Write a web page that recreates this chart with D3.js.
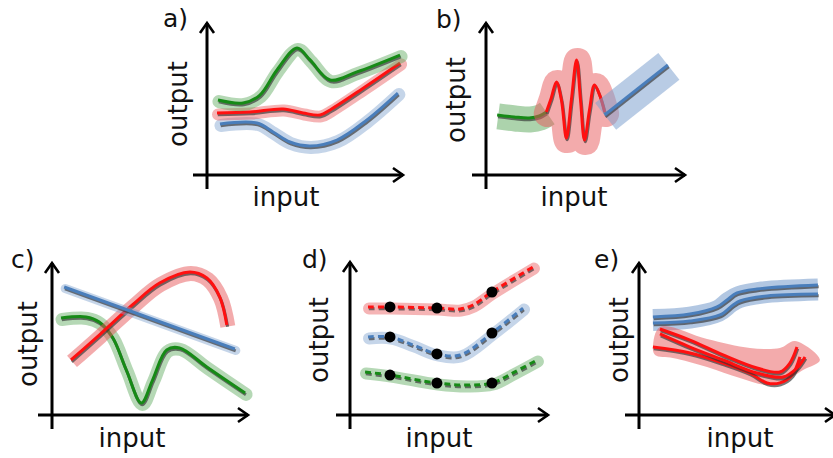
<!DOCTYPE html>
<html>
<head>
<meta charset="utf-8">
<script src="https://cdn.jsdelivr.net/npm/d3@7"></script>
<style>
  html, body { margin: 0; padding: 0; background: #fff; }
  svg { display: block; }
  text { font-family: "DejaVu Sans", Verdana, sans-serif; fill: #111; }
</style>
</head>
<body>
<svg id="fig" width="833" height="458"></svg>
<script>
// ---- labels ----
const panelLetters = ["a)", "b)", "c)", "d)", "e)"];
const xLabel = "input";
const yLabel = "output";

// ---- curve values (x: 0..100 along input, y: 0..100 along output) ----
// a) three smooth responses
const aGreen = [[5.6,49.3],[18.4,47.4],[27.0,52.6],[35.7,69.1],[45.9,83.6],[52.6,75.7],[62.8,62.5],[76.5,67.8],[98.5,78.9]];
const aRed   = [[5.1,40.8],[21.9,41.4],[38.8,43.4],[49.0,40.8],[57.7,39.5],[62.8,42.8],[80.6,57.9],[98.5,73.7]];
const aBlue  = [[6.6,33.6],[25.5,34.2],[33.7,28.3],[42.3,21.7],[52.6,19.1],[66.3,23.0],[81.6,36.2],[97.4,53.9]];

// b) three regimes: smooth, oscillating, linear
const bGreen = [[5.6,39.5],[14.1,38.2],[21.7,37.5],[26.8,38.8],[30.3,41.4]];
const bRed   = [[30.3,41.4],[32.8,50.7],[35.4,61.2],[37.9,49.3],[40.4,24.3],[42.9,49.3],[45.5,75.7],[47.5,49.3],[49.5,23.0],[52.0,42.8],[54.5,59.2],[57.1,52.6],[59.6,41.4]];
const bBlue  = [[59.6,39.5],[91.4,72.4]];

// c) crossing responses
const cBlue  = [[6.2,84.2],[93.3,43.4]];
const cRed   = [[9.7,36.2],[24.1,52.6],[41.0,72.4],[54.9,86.8],[70.3,94.1],[79.0,90.1],[85.6,77.6],[89.2,59.2]];
const cGreen = [[4.6,63.8],[17.4,64.5],[24.1,61.2],[30.8,51.3],[37.9,29.6],[45.6,7.9],[51.3,23.0],[58.5,42.8],[65.1,44.1],[79.0,31.6],[98.5,14.5]];

// d) curves through observed points
const dRed   = [[9.1,70.6],[20.2,70.6],[43.9,69.9],[55.6,69.3],[62.1,71.9],[71.7,80.4],[92.4,96.7]];
const dBlue  = [[9.1,51.0],[20.2,51.0],[31.8,45.8],[43.9,39.9],[55.6,39.2],[71.7,53.6],[87.4,69.9]];
const dGreen = [[7.6,28.1],[20.2,26.1],[43.9,20.9],[59.1,19.6],[71.7,20.9],[82.3,27.5],[94.4,35.9]];
const dRedObs   = [[20.2,70.6],[43.9,69.9],[71.7,80.4]];
const dBlueObs  = [[20.2,51.0],[43.9,39.9],[71.7,53.6]];
const dGreenObs = [[20.2,26.1],[43.9,20.9],[71.7,20.9]];

// e) two groups of sample paths with their envelopes
const eBlueBand  = [[7.1,62.5],[26.0,64.1],[40.3,68.4],[46.4,74.3],[51.0,77.6],[62.8,80.6],[91.3,82.6]];
const eBlueUpper = [[7.1,64.5],[26.0,66.4],[39.8,71.1],[44.9,75.7],[50.0,80.3],[60.2,82.9],[91.3,85.5]];
const eBlueLower = [[7.1,60.5],[26.0,61.8],[41.3,65.8],[48.0,72.4],[51.5,75.0],[65.3,78.3],[91.3,79.6]];
const eRedEnvelope = [[10.7,57.9],[34.7,50.0],[56.6,44.1],[71.9,44.1],[79.6,48.7],[92.3,36.2],[83.7,29.6],[73.5,21.7],[65.3,19.7],[51.5,24.3],[34.7,31.6],[17.3,37.5],[8.2,39.5],[7.1,44.7]];
const eRed1 = [[10.7,56.6],[26.0,49.3],[42.9,39.5],[60.2,30.9],[71.9,28.3],[77.0,34.2],[80.6,44.7]];
const eRed2 = [[10.7,53.3],[26.0,44.7],[42.9,36.2],[60.2,27.6],[73.5,25.0],[80.6,30.9],[84.7,38.2]];
const eRed3 = [[7.1,44.7],[26.0,40.8],[42.9,34.2],[56.6,27.6],[65.3,21.1],[71.9,21.1],[78.1,26.3],[82.1,38.2]];

// ---- styling ----
const COL = {
  green: "#168a16", greenBand: "#5aa85a",
  red: "#ff1010",   redBand: "#e8585a",
  blue: "#4a7ebb",  blueBand: "#7fa2cf"
};

// ---- panel frames (axis origin, arrow tips, label anchors) ----
const panels = [
  { id: "a", ox: 207, oy: 175, tipX: 403, topY: 23,  letter: [163, 27],  yLab: [187, 104], xLab: [286, 206] },
  { id: "b", ox: 486, oy: 175, tipX: 685, topY: 23,  letter: [436, 28],  yLab: [465, 100], xLab: [574, 206] },
  { id: "c", ox: 52,  oy: 415, tipX: 248, topY: 263, letter: [11, 268],  yLab: [37, 344],  xLab: [132, 447] },
  { id: "d", ox: 350, oy: 415, tipX: 548, topY: 262, letter: [302, 268], yLab: [328, 340], xLab: [439, 447] },
  { id: "e", ox: 639, oy: 415, tipX: 835, topY: 263, letter: [594, 268], yLab: [628, 340], xLab: [740, 447] }
];

const svg = d3.select("#fig");
const smooth = d3.curveCatmullRom.alpha(0.5);

function makeScales(p) {
  return {
    x: d3.scaleLinear().domain([0, 100]).range([p.ox, p.tipX]),
    y: d3.scaleLinear().domain([0, 100]).range([p.oy, p.topY])
  };
}

function lineGen(s, curve) {
  return d3.line().x(d => s.x(d[0])).y(d => s.y(d[1])).curve(curve || smooth);
}

// band + drop shadow + coloured line
function series(g, s, data, color, bandColor, opt) {
  opt = opt || {};
  const gen = lineGen(s, opt.curve);
  if (bandColor) {
    g.append("path").attr("d", gen(opt.band || data))
      .attr("fill", "none").attr("stroke", bandColor)
      .attr("stroke-opacity", opt.bandOpacity || 0.45)
      .attr("stroke-width", opt.bandWidth || 13)
      .attr("stroke-linecap", opt.bandCap || "round")
      .attr("stroke-linejoin", "round")
      .attr("transform", "translate(1,1.5)");
  }
  const shadow = g.append("path").attr("d", gen(data))
    .attr("fill", "none").attr("stroke", "#333").attr("stroke-opacity", 0.65)
    .attr("stroke-width", opt.width || 3).attr("transform", "translate(0.8,1.8)");
  const main = g.append("path").attr("d", gen(data))
    .attr("fill", "none").attr("stroke", color)
    .attr("stroke-width", opt.width || 3).attr("stroke-linecap", "butt");
  if (opt.dash) { shadow.attr("stroke-dasharray", opt.dash); main.attr("stroke-dasharray", opt.dash); }
}

function drawFrame(g, p, letter) {
  const k = "#000";
  g.append("line").attr("x1", p.ox - 14).attr("x2", p.tipX).attr("y1", p.oy).attr("y2", p.oy)
    .attr("stroke", k).attr("stroke-width", 3);
  g.append("line").attr("x1", p.ox).attr("x2", p.ox).attr("y1", p.oy + 14).attr("y2", p.topY)
    .attr("stroke", k).attr("stroke-width", 3);
  g.append("path").attr("d", `M${p.tipX - 10},${p.oy - 7}L${p.tipX},${p.oy}L${p.tipX - 10},${p.oy + 7}`)
    .attr("fill", "none").attr("stroke", k).attr("stroke-width", 2.6);
  g.append("path").attr("d", `M${p.ox - 7},${p.topY + 10}L${p.ox},${p.topY}L${p.ox + 7},${p.topY + 10}`)
    .attr("fill", "none").attr("stroke", k).attr("stroke-width", 2.6);

  g.append("text").attr("x", p.letter[0]).attr("y", p.letter[1])
    .attr("font-size", 25).text(letter);
  g.append("text").attr("x", p.xLab[0]).attr("y", p.xLab[1])
    .attr("text-anchor", "middle").attr("font-size", 26).text(xLabel);
  g.append("text").attr("transform", `translate(${p.yLab[0]},${p.yLab[1]}) rotate(-90)`)
    .attr("text-anchor", "middle").attr("font-size", 26).text(yLabel);
}

const G = {};
panels.forEach((p, i) => {
  const g = svg.append("g").attr("class", "panel-" + p.id);
  G[p.id] = { g: g.append("g"), s: makeScales(p) };
  drawFrame(g, p, panelLetters[i]);
});

// a)
(() => {
  const { g, s } = G.a;
  series(g, s, aBlue, COL.blue, COL.blueBand, { bandWidth: 13 });
  series(g, s, aRed, COL.red, COL.redBand, { bandWidth: 12 });
  series(g, s, aGreen, COL.green, COL.greenBand, { bandWidth: 13 });
})();

// b)
(() => {
  const { g, s } = G.b;
  series(g, s, bGreen, COL.green, COL.greenBand, { bandWidth: 26, bandCap: "butt", bandOpacity: 0.5 });
  series(g, s, bRed, COL.red, COL.redBand, { bandWidth: 27, bandOpacity: 0.5 });
  series(g, s, bBlue, COL.blue, COL.blueBand, { bandWidth: 34, bandCap: "butt", bandOpacity: 0.55, curve: d3.curveLinear });
})();

// c)
(() => {
  const { g, s } = G.c;
  series(g, s, cGreen, COL.green, COL.greenBand, { bandWidth: 13 });
  series(g, s, cRed, COL.red, COL.redBand, { bandWidth: 15, bandCap: "butt", bandOpacity: 0.5 });
  series(g, s, cBlue, COL.blue, COL.blueBand, { bandWidth: 9, curve: d3.curveLinear });
})();

// d)
(() => {
  const { g, s } = G.d;
  [[dRed, dRedObs, COL.red, COL.redBand], [dBlue, dBlueObs, COL.blue, COL.blueBand], [dGreen, dGreenObs, COL.green, COL.greenBand]]
    .forEach(([line, obs, c, b]) => {
      series(g, s, line, c, b, { bandWidth: 12, dash: "6,4", bandOpacity: 0.45 });
      g.selectAll(null).data(obs).join("circle")
        .attr("cx", d => s.x(d[0])).attr("cy", d => s.y(d[1]))
        .attr("r", 5.5).attr("fill", "#000");
    });
})();

// e)
(() => {
  const { g, s } = G.e;
  g.append("path").attr("d", lineGen(s)(eBlueBand))
    .attr("fill", "none").attr("stroke", COL.blueBand).attr("stroke-opacity", 0.6)
    .attr("stroke-width", 22).attr("stroke-linecap", "butt");
  series(g, s, eBlueUpper, COL.blue, null, {});
  series(g, s, eBlueLower, COL.blue, null, {});

  g.append("path").attr("d", d3.line().x(d => s.x(d[0])).y(d => s.y(d[1])).curve(d3.curveCatmullRomClosed.alpha(0.5))(eRedEnvelope))
    .attr("fill", COL.redBand).attr("fill-opacity", 0.5);
  series(g, s, eRed3, COL.red, null, {});
  series(g, s, eRed2, COL.red, null, {});
  series(g, s, eRed1, COL.red, null, {});
})();
</script>
</body>
</html>
